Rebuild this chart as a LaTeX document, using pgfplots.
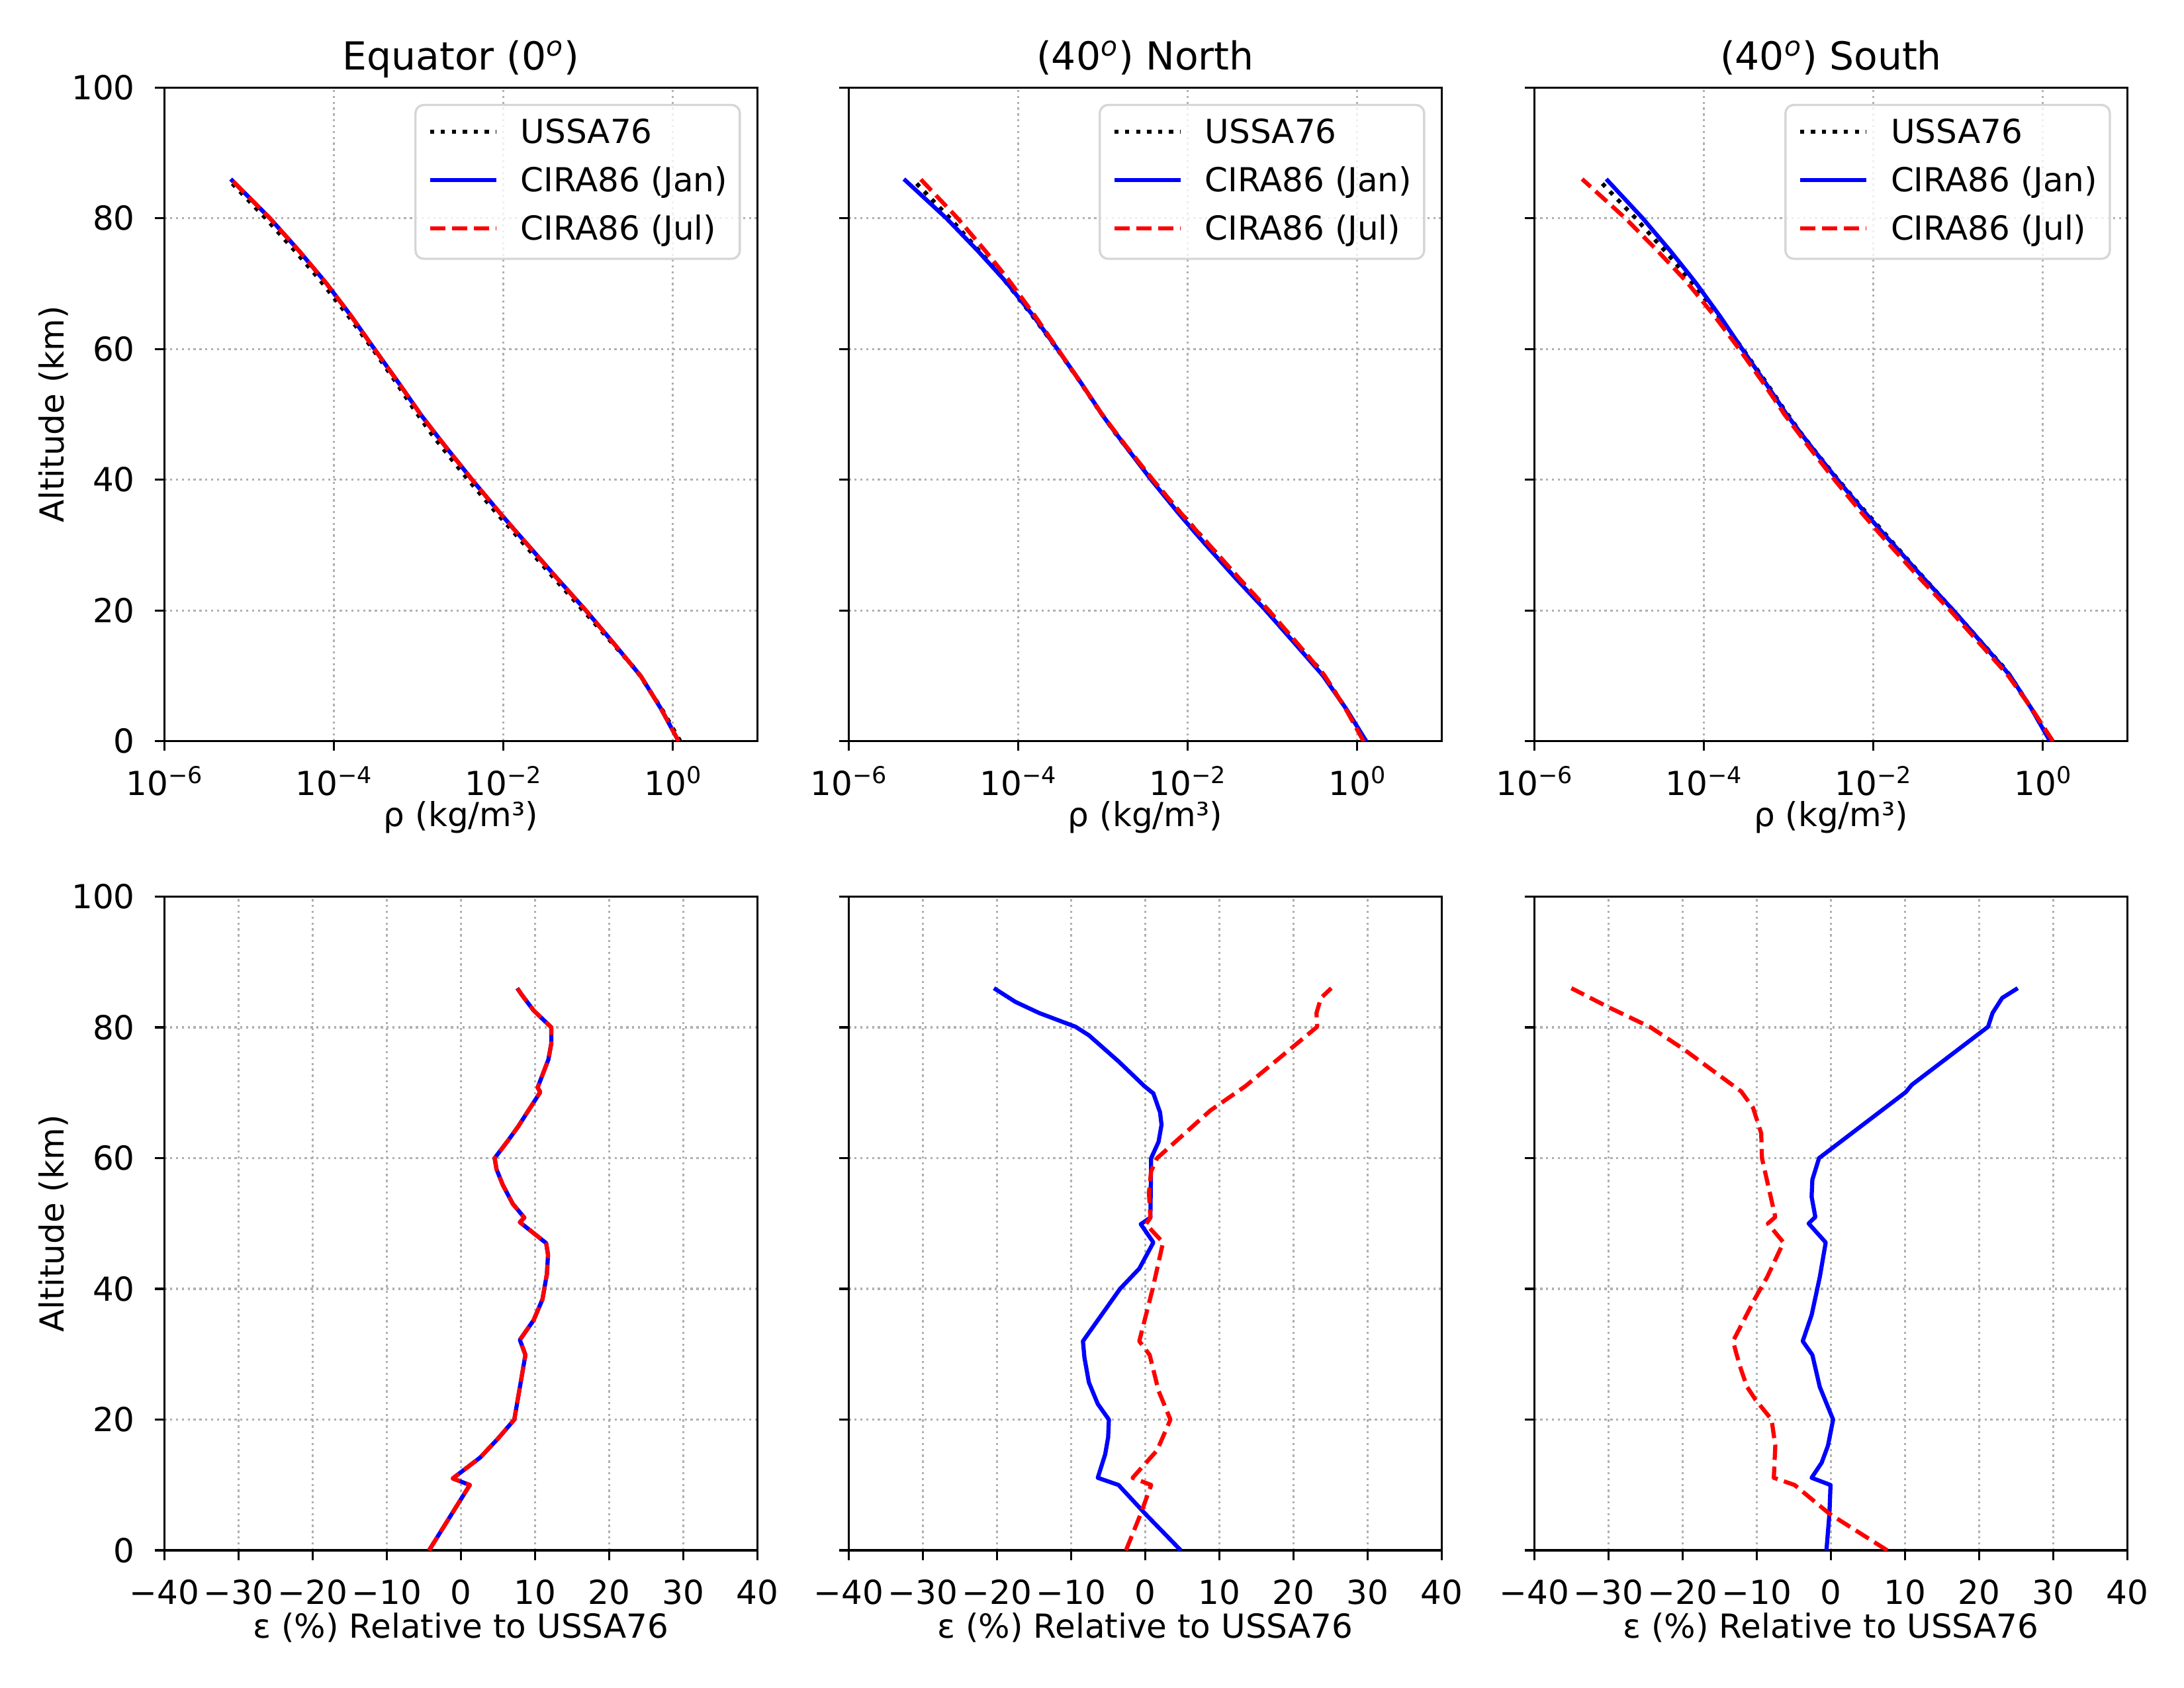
\documentclass[border=0pt]{standalone}
\usepackage{fontspec}
\setmainfont{DejaVu Sans}
\usepackage{pgfplots}
\usepackage{pgfplotstable}
\pgfplotsset{compat=1.18}

\definecolor{gridgray}{RGB}{176,176,176}
\definecolor{legendedge}{RGB}{214,214,214}
\definecolor{mblue}{RGB}{0,0,255}
\definecolor{mred}{RGB}{255,0,0}

\newcommand{\twelve}{\fontsize{12}{14.4}\selectfont}
\newcommand{\pw}[1]{10\raisebox{4.3pt}{\fontsize{8.4}{10}\selectfont #1}}

% Density profiles (kg/m^3) versus geopotential altitude (km)
\pgfplotstableread{
alt ussa       eqjan      eqjul      nojan      nojul      sojan      sojul
0   1.2250     1.1723     1.1723     1.2838     1.1932     1.2177     1.3181
5   0.73614    0.72473    0.72473    0.73982    0.73025    0.73467    0.74056
10  0.41270    0.41765    0.41765    0.39784    0.41600    0.41249    0.39248
11  0.36391    0.35991    0.35991    0.34098    0.35882    0.35518    0.33698
15  0.19367    0.20006    0.20006    0.18321    0.19619    0.19231    0.17914
20  0.088031   0.094369   0.094369   0.083717   0.091024   0.088295   0.080989
25  0.039465   0.042622   0.042622   0.036545   0.040136   0.038873   0.035005
30  0.018011   0.019578   0.019578   0.016534   0.018119   0.017561   0.015724
32  0.013226   0.014284   0.014284   0.012115   0.013120   0.012723   0.011480
35  0.0082149  0.0090200  0.0090200  0.0076809  0.0082067  0.0079767  0.0072373
40  0.0038511  0.0042863  0.0042863  0.0037202  0.0038896  0.0037818  0.0034852
45  0.0018815  0.0021026  0.0021026  0.0018853  0.0019191  0.0018627  0.0017460
47  0.0014276  0.0015918  0.0015918  0.0014433  0.0014619  0.0014176  0.0013362
50  0.00097760 0.0010558  0.0010558  0.00097271 0.00098053 0.00094827 0.00089450
51  0.00086166 0.00093490 0.00093490 0.00086769 0.00086769 0.00084357 0.00079704
55  0.00053673 0.00056893 0.00056893 0.00054049 0.00053941 0.00052278 0.00049218
60  0.00028834 0.00030146 0.00030146 0.00029065 0.00029295 0.00028373 0.00026152
65  0.00014938 0.00016103 0.00016103 0.00015267 0.00015924 0.00015565 0.00013474
70  7.4236e-5  8.2179e-5  8.2179e-5  7.4978e-5  8.3367e-5  8.1734e-5  6.5328e-5
71  6.4197e-5  7.0873e-5  7.0873e-5  6.4133e-5  7.2864e-5  7.1130e-5  5.5787e-5
75  3.4852e-5  3.8965e-5  3.8965e-5  3.3528e-5  4.1056e-5  4.0324e-5  2.8544e-5
80  1.5697e-5  1.7612e-5  1.7612e-5  1.4237e-5  1.9339e-5  1.9025e-5  1.1883e-5
86  5.6398e-6  6.0684e-6  6.0684e-6  4.4893e-6  7.0554e-6  7.0610e-6  3.6659e-6
}\density

% Relative deviation from USSA76 (%), Equator (January and July coincide)
\pgfplotstableread{
alt  jan   jul
0    -4.3  -4.3
10   1.2   1.2
11   -1.1  -1.1
14.2 2.6   2.6
17.1 5.0   5.0
20   7.2   7.2
29.9 8.7   8.7
32.2 7.95  7.95
35.2 9.8   9.8
38.4 11.0  11.0
42.3 11.6  11.6
45.2 11.75 11.75
47   11.5  11.5
50.2 7.95  7.95
50.9 8.55  8.55
53   7.0   7.0
55.9 5.65  5.65
58.3 4.8   4.8
60   4.55  4.55
62.6 6.3   6.3
64.8 7.7   7.7
70.1 10.7  10.7
70.8 10.35 10.35
75.1 11.8  11.8
77.6 12.2  12.2
80   12.2  12.2
82.6 9.8   9.8
85   8.2   8.2
86   7.6   7.6
}\epseq

% 40 deg North, January
\pgfplotstableread{
alt  eps
0    4.8
5.6  0.0
10   -3.6
11.1 -6.4
14.7 -5.4
17.3 -5.0
20   -4.9
22.4 -6.4
25.7 -7.6
29.5 -8.2
32   -8.4
40   -3.4
43.1 -0.8
47.1 1.1
49.9 -0.6
50.9 0.7
60   0.8
62.5 1.8
65.1 2.2
67   2.0
69.9 1.1
71.0 -0.1
74.8 -3.6
78.8 -7.6
80.1 -9.4
82.2 -14.3
83.9 -17.5
86   -20.4
}\epsnojan

% 40 deg North, July
\pgfplotstableread{
alt  eps
0    -2.6
5.6  -0.6
10   0.8
11.1 -1.7
15.3 1.6
20   3.4
24.4 1.8
29.9 0.6
32   -0.8
40   1.0
47.1 2.4
49.9 0.1
50.9 0.7
54.7 0.5
58   0.8
60   1.6
67.3 8.8
71   13.5
77   19.9
80.1 23.2
82.2 23.1
84.5 23.7
86   25.1
}\epsnojul

% 40 deg South, January
\pgfplotstableread{
alt  eps
0    -0.6
5.6  -0.2
10   -0.05
11.1 -2.6
13.4 -1.25
16   -0.4
20   0.3
25   -1.5
29.9 -2.5
32   -3.8
36   -2.6
41.8 -1.5
47.1 -0.7
50   -3.0
51   -2.1
54.1 -2.6
56.7 -2.5
60   -1.6
70.1 10.1
71.2 10.9
80.1 21.2
82.2 21.8
84.5 23.1
86   25.2
}\epssojan

% 40 deg South, July
\pgfplotstableread{
alt  eps
0    7.6
5.6  -0.2
10   -4.9
11.1 -7.7
16   -7.5
20   -8.0
23.1 -10.2
25   -11.3
27.6 -12.1
29.9 -12.7
32   -13.2
38.6 -10.2
41.8 -8.6
47.1 -6.4
50   -8.5
51   -7.5
60   -9.3
63.8 -9.4
67.7 -10.5
70.2 -12.1
76.7 -19.9
80   -24.3
80.6 -25.4
83.2 -30.2
86   -35.0
}\epssojul

\pgfplotsset{
  panel/.style={
    scale only axis, width=215.1pt, height=237pt, anchor=north west,
    ymin=0, ymax=100, ytick={0,20,40,60,80,100}, yticklabels={},
    xtick pos=left, ytick pos=left,
    tick align=outside, major tick length=3.5pt,
    every tick/.style={black, line width=0.8pt},
    axis line style={line width=0.8pt},
    grid=major,
    major grid style={gridgray, line width=0.8pt, dash pattern=on 0.8pt off 1.32pt},
    tick label style={font=\twelve},
    xticklabel style={anchor=base, inner sep=0pt, yshift=-16pt},
    yticklabel style={anchor=east, inner sep=0pt, xshift=-7pt},
    every axis y label/.style={at={([xshift=-36.4pt]axis description cs:0,0.5)}, rotate=90, anchor=base, inner sep=0pt, font=\twelve},
    every axis title/.style={at={([yshift=6.3pt]axis description cs:0.5,1)}, anchor=base, inner sep=0pt, font=\fontsize{14}{16.8}\selectfont},
    legend image code/.code={\draw[##1] (0pt,4.2pt) -- (24pt,4.2pt);},
    legend style={at={(1,1)}, anchor=north east, xshift=-6pt, yshift=-5.9pt,
      draw=legendedge, line width=0.8pt, rounded corners=3pt,
      fill=white, fill opacity=0.8, text opacity=1,
      font=\twelve, inner xsep=4.5pt, inner ysep=2pt,
      row sep=0.7pt, column sep=8.2pt,
      nodes={inner sep=0pt, text height=12pt, text depth=4.8pt},
      cells={anchor=base west}},
  },
  toprow/.style={panel,
    xmin=1e-6, xmax=10,
    xtick={1e-6,1e-4,1e-2,1},
    xticklabels={\pw{−6},\pw{−4},\pw{−2},\pw{0}},
    xlabel={ρ (kg/m³)},
    every axis x label/.style={at={([yshift=-30.8pt]axis description cs:0.5,0)}, anchor=base, inner sep=0pt, font=\twelve},
  },
  botrow/.style={panel,
    xmin=-40, xmax=40,
    xtick={-40,-30,-20,-10,0,10,20,30,40},
    xticklabels={−40,−30,−20,−10,0,10,20,30,40},
    xlabel={ε (\%) Relative to USSA76},
    every axis x label/.style={at={([yshift=-31.75pt]axis description cs:0.5,0)}, anchor=base, inner sep=0pt, font=\twelve},
  },
  ussa/.style={black, line width=1.5pt, line join=round, dash pattern=on 1.5pt off 2.475pt},
  jan/.style={mblue, line width=1.5pt, line join=round, solid},
  jul/.style={mred, line width=1.5pt, line join=round, dash pattern=on 5.55pt off 2.4pt},
}

\begin{document}
\begin{tikzpicture}
\useasboundingbox (0,0) rectangle (792pt,612pt);

% ---- density profiles ----
\begin{semilogxaxis}[toprow, at={(59.6pt,580.25pt)},
  title={Equator (0\textsuperscript{\textit{o}})},
  ylabel={Altitude (km)}, yticklabels={0,20,40,60,80,100}]
  \addplot[ussa] table[x=ussa, y=alt] {\density};
  \addplot[jan]  table[x=eqjan, y=alt] {\density};
  \addplot[jul]  table[x=eqjul, y=alt] {\density};
  \legend{USSA76, CIRA86 (Jan), CIRA86 (Jul)}
\end{semilogxaxis}

\begin{semilogxaxis}[toprow, at={(307.75pt,580.25pt)},
  title={(40\textsuperscript{\textit{o}}) North}]
  \addplot[ussa] table[x=ussa, y=alt] {\density};
  \addplot[jan]  table[x=nojan, y=alt] {\density};
  \addplot[jul]  table[x=nojul, y=alt] {\density};
  \legend{USSA76, CIRA86 (Jan), CIRA86 (Jul)}
\end{semilogxaxis}

\begin{semilogxaxis}[toprow, at={(556.4pt,580.25pt)},
  title={(40\textsuperscript{\textit{o}}) South}]
  \addplot[ussa] table[x=ussa, y=alt] {\density};
  \addplot[jan]  table[x=sojan, y=alt] {\density};
  \addplot[jul]  table[x=sojul, y=alt] {\density};
  \legend{USSA76, CIRA86 (Jan), CIRA86 (Jul)}
\end{semilogxaxis}

% ---- deviations from USSA76 ----
\begin{axis}[botrow, at={(59.6pt,286.9pt)},
  ylabel={Altitude (km)}, yticklabels={0,20,40,60,80,100}]
  \addplot[jan] table[x=jan, y=alt] {\epseq};
  \addplot[jul] table[x=jul, y=alt] {\epseq};
\end{axis}

\begin{axis}[botrow, at={(307.75pt,286.9pt)}]
  \addplot[jan] table[x=eps, y=alt] {\epsnojan};
  \addplot[jul] table[x=eps, y=alt] {\epsnojul};
\end{axis}

\begin{axis}[botrow, at={(556.4pt,286.9pt)}]
  \addplot[jan] table[x=eps, y=alt] {\epssojan};
  \addplot[jul] table[x=eps, y=alt] {\epssojul};
\end{axis}
\end{tikzpicture}
\end{document}
